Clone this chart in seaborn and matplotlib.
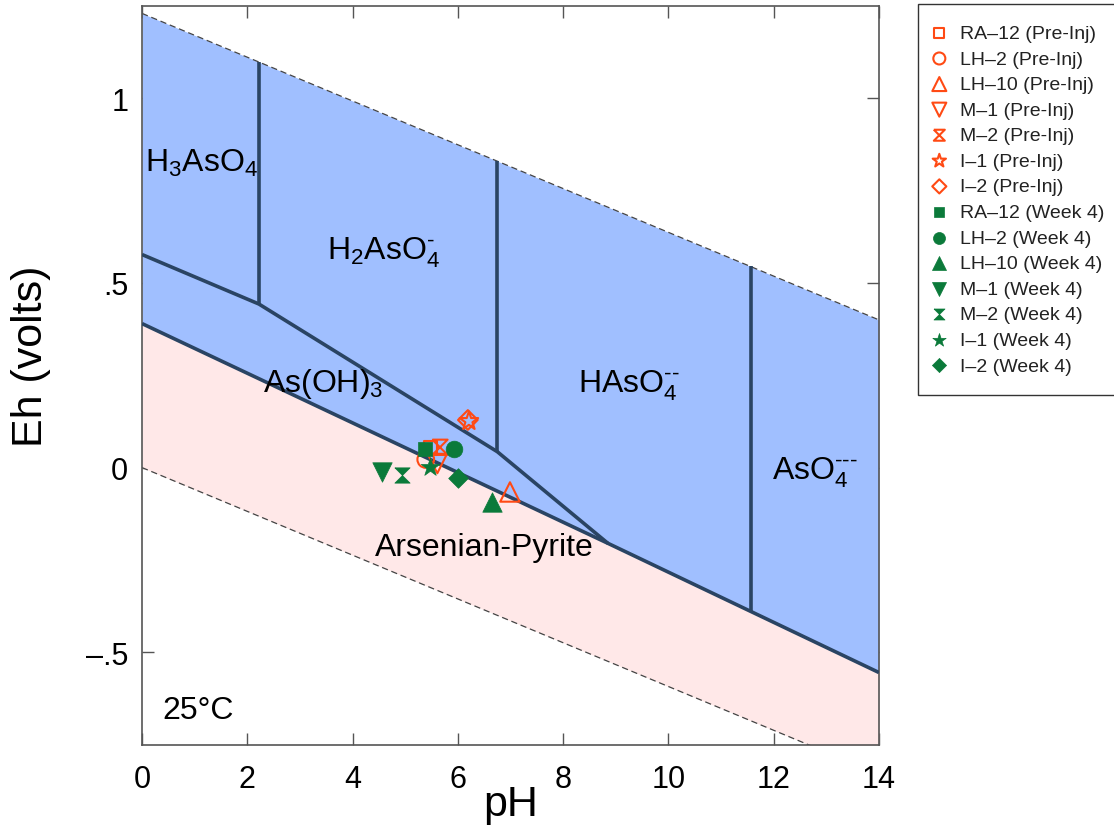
import numpy as np
import matplotlib
matplotlib.use('Agg')
import matplotlib.pyplot as plt
import seaborn as sns

# water stability limits, end points (pH, Eh)
water_ph = [0, 14]
o2_eh = [1.23, 0.40]
h2_eh = [0.0, -0.83]

# As(OH)3 / arsenian pyrite boundary
pyr_ph = [0, 8.85, 14]
pyr_eh = [0.39, -0.205, -0.555]

# top of the As(OH)3 field
asoh_ph = [0, 2.22, 6.75, 8.85]
asoh_eh = [0.577, 0.443, 0.043, -0.205]

# vertical boundaries between As(V) species
vert_ph = [2.22, 6.75, 11.57]
vert_lo = [0.443, 0.043, -0.388]
vert_hi = [1.098, 0.830, 0.545]

# field labels
field_txt = ['H$_3$AsO$_4$', r'H$_2$AsO$_4^{\text{-}}$', 'As(OH)$_3$',
             r'HAsO$_4^{\text{--}}$', r'AsO$_4^{\text{---}}$', 'Arsenian-Pyrite', '25°C']
field_ph = [0.06, 3.51, 2.30, 8.28, 11.97, 4.43, 0.38]
field_eh = [0.803, 0.565, 0.208, 0.205, -0.030, -0.238, -0.678]

# samples
samples = ['RA–12', 'LH–2', 'LH–10', 'M–1', 'M–2', 'I–1', 'I–2']
pre_ph = [5.48, 5.39, 6.99, 5.61, 5.66, 6.21, 6.19]
pre_eh = [0.053, 0.022, -0.066, 0.011, 0.055, 0.126, 0.129]
wk4_ph = [5.37, 5.93, 6.64, 4.55, 4.93, 5.47, 6.01]
wk4_eh = [0.051, 0.051, -0.093, -0.012, -0.021, 0.002, -0.028]

hourglass = [(-1, 1), (1, 1), (-1, -1), (1, -1), (-1, 1)]
markers = ['s', 'o', '^', 'v', hourglass, '*', 'D']
msizes = [10, 12, 14, 14, 11, 14, 10]

ORANGE = '#ff4a14'
GREEN = '#0b7a3a'
NAVY = '#2a4463'

sns.set_theme(style='ticks')
plt.rcParams['font.family'] = ['Liberation Sans', 'DejaVu Sans']
plt.rcParams['mathtext.fontset'] = 'custom'
plt.rcParams['mathtext.rm'] = 'Liberation Sans'
plt.rcParams['mathtext.it'] = 'Liberation Sans:italic'
plt.rcParams['text.color'] = 'black'
plt.rcParams['axes.labelcolor'] = 'black'

fig = plt.figure(figsize=(11.14, 8.28), dpi=100)
ax = fig.add_axes([0.1275, 0.0996, 0.6615, 0.8919])

# fields
grid = np.linspace(0, 14, 600)
up = np.interp(grid, water_ph, o2_eh)
lo = np.interp(grid, water_ph, h2_eh)
py = np.interp(grid, pyr_ph, pyr_eh)
ax.fill_between(grid, py, up, color='#a0bfff', lw=0, zorder=1)
ax.fill_between(grid, lo, py, color='#ffe8e8', lw=0, zorder=1)

# water lines
ax.plot(water_ph, o2_eh, ls=(0, (5, 3)), color='#444444', lw=0.9, zorder=2)
ax.plot(water_ph, h2_eh, ls=(0, (5, 3)), color='#444444', lw=0.9, zorder=2)

# boundaries
ax.plot(pyr_ph, pyr_eh, color=NAVY, lw=2.6, zorder=3, solid_capstyle='butt')
ax.plot(asoh_ph, asoh_eh, color=NAVY, lw=2.6, zorder=3, solid_capstyle='butt')
ax.vlines(vert_ph, vert_lo, vert_hi, color=NAVY, lw=2.6, zorder=3)

for t, x, y in zip(field_txt, field_ph, field_eh):
    ax.text(x, y, t, fontsize=23, ha='left', va='baseline', color='black', zorder=4)

# samples
for name, x, y, m, ms in zip(samples, pre_ph, pre_eh, markers, msizes):
    sns.scatterplot(x=[x], y=[y], marker=m, s=ms ** 2, facecolor='none',
                    edgecolor=ORANGE, linewidth=1.5, label=f'{name} (Pre-Inj)',
                    ax=ax, zorder=5)
for name, x, y, m, ms in zip(samples, wk4_ph, wk4_eh, markers, msizes):
    sns.scatterplot(x=[x], y=[y], marker=m, s=ms ** 2, color=GREEN,
                    edgecolor=GREEN, linewidth=0.5, label=f'{name} (Week 4)',
                    ax=ax, zorder=5)

ax.set_xlim(0, 14)
ax.set_ylim(-0.75, 1.25)
ax.set_xticks(range(0, 15, 2))
ax.set_yticks([-0.5, 0, 0.5, 1])
ax.set_yticklabels(['–.5', '0', '.5', '1'])
ax.tick_params(direction='in', length=8.5, width=1, color='#555555',
               labelcolor='black', labelsize=22, top=True, right=True)
ax.tick_params(axis='x', pad=14)
ax.tick_params(axis='y', pad=10)
for s in ax.spines.values():
    s.set_color('#555555')
    s.set_linewidth(1.2)

ax.set_xlabel('pH', fontsize=31)
ax.set_ylabel('Eh (volts)', fontsize=31)
ax.xaxis.set_label_coords(0.5, -0.053)
ax.yaxis.set_label_coords(-0.124, 0.527)

leg = ax.legend(loc='upper left', bbox_to_anchor=(0.824, 0.994),
                bbox_transform=fig.transFigure, fontsize=14, markerscale=0.72,
                frameon=True, fancybox=False, edgecolor='black',
                labelspacing=0.41, handlelength=0.1, handletextpad=1.0,
                borderpad=1.05, borderaxespad=0)
leg.get_frame().set_linewidth(1.0)
for txt in leg.get_texts():
    txt.set_color('#222222')

fig.savefig('out.png', dpi=100)
